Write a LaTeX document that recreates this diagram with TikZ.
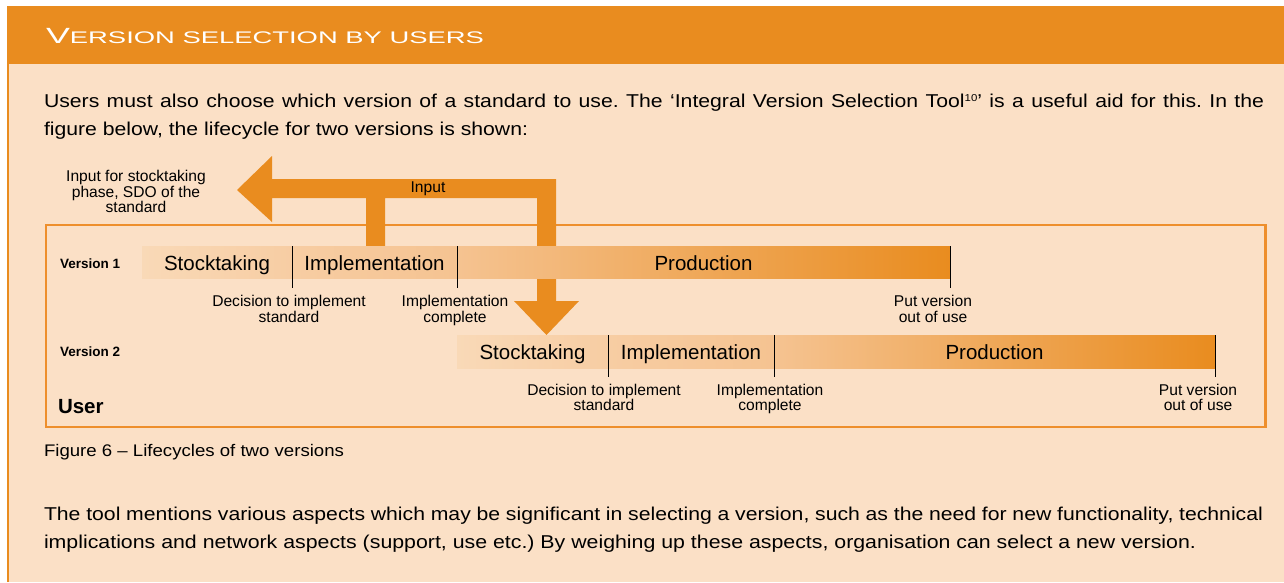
\documentclass[tikz,border=0pt]{standalone}
\usepackage{fontspec}
\usepackage{graphicx}
\setmainfont{Liberation Sans}
\newfontfamily\bodyfont{Liberation Sans}[FakeStretch=1.14]
\usetikzlibrary{positioning}

\definecolor{hdr}{HTML}{E98C1F}
\definecolor{panel}{HTML}{FBE0C6}
\definecolor{framec}{HTML}{EE8F2C}
\definecolor{paleA}{HTML}{F9D9B7}
\definecolor{paleB}{HTML}{F7CDA3}
\definecolor{paleC}{HTML}{F5C391}
\definecolor{midO}{HTML}{EEA55A}

\newcommand\footmark[1]{\raisebox{6.5pt}{\fontsize{10}{10}\selectfont #1}}

\begin{document}
\frenchspacing
\begin{tikzpicture}[x=1pt,y=-1pt,
  every node/.style={inner sep=0pt, outer sep=0pt},
  seg/.style={anchor=north west, text height=20pt, text depth=4pt,
    font=\fontsize{20.5}{24}\selectfont, text=black},
  tick/.style={draw=black, line width=0.9pt},
  sub/.style={font=\fontsize{15.6}{18}\selectfont, anchor=base},
  ver/.style={font=\bfseries\fontsize{13.5}{16}\selectfont, anchor=base west},
  body/.style={font=\bodyfont\fontsize{18.6}{22}\selectfont\frenchspacing, anchor=base west}]

\useasboundingbox (0,0) rectangle (1284,582);

% page, panel and heading bar
\fill[white] (0,0) rectangle (1284,582);
\fill[panel] (7,64) rectangle (1284,582);
\fill[hdr] (7,6) rectangle (1284,64);
\draw[hdr, line width=2.2pt] (8,64) -- (8,582);

\node[anchor=base west, text=white] (title) at (46,43)
  {\resizebox{438pt}{\height}{\fontsize{22}{22}\selectfont V\fontsize{16.8}{16}\selectfont ERSION SELECTION BY USERS}};

% opening paragraph
\node[body] (p1a) at (44,107.5) {\makebox[1220pt][s]{Users must also choose which version of a standard to use. The ‘Integral Version Selection Tool\footmark{10}’ is a useful aid for this. In the}};
\node[body] (p1b) at (44,135.5) {\resizebox{484pt}{\height}{figure below, the lifecycle for two versions is shown:}};

% user frame
\draw[framec, line width=2.5pt] (46,225) rectangle (1265.5,427);

% input arrows
\fill[hdr] (237,190) -- (272,156) -- (272,179) -- (556,179) -- (556,301)
  -- (579,301) -- (546.5,335) -- (514,301) -- (537,301) -- (537,198)
  -- (385,198) -- (385,246) -- (366,246) -- (366,198) -- (272,198)
  -- (272,222) -- cycle;

\node[font=\fontsize{15.6}{18}\selectfont, anchor=base] (inlab) at (428,192.7) {Input};
\node[sub] (sdo1) at (136,181.7) {Input for stocktaking};
\node[sub] (sdo2) at (136,197.2) {phase, SDO of the};
\node[sub] (sdo3) at (136,212.7) {standard};

% version 1
\node[ver] (ver1) at (60,268.3) {Version 1};
\node[seg, minimum height=32pt, minimum width=150pt, left color=paleA, right color=paleB] (v1s) at (142,246) {Stocktaking};
\node[seg, minimum height=32pt, minimum width=165pt, left color=paleB, right color=paleC] (v1i) at (v1s.north east) {Implementation};
\node[seg, minimum height=32pt, minimum width=493pt, left color=paleC, middle color=midO, right color=hdr] (v1p) at (v1i.north east) {Production};
\draw[tick] (v1s.north east) -- ++(0,42);
\draw[tick] (v1i.north east) -- ++(0,42);
\draw[tick] (v1p.north east) -- ++(0,42);

\node[sub] (d1a) at (289,306.5) {Decision to implement};
\node[sub] (d1b) at (289,322) {standard};
\node[sub] (c1a) at (455,306.5) {Implementation};
\node[sub] (c1b) at (455,322) {complete};
\node[sub] (o1a) at (933,306.5) {Put version};
\node[sub] (o1b) at (933,322) {out of use};

% version 2
\node[ver] (ver2) at (60,356) {Version 2};
\node[seg, minimum height=33pt, minimum width=151pt, left color=paleA, right color=paleB] (v2s) at (457,335) {Stocktaking};
\node[seg, minimum height=33pt, minimum width=166pt, left color=paleB, right color=paleC] (v2i) at (v2s.north east) {Implementation};
\node[seg, minimum height=33pt, minimum width=441pt, left color=paleC, middle color=midO, right color=hdr] (v2p) at (v2i.north east) {Production};
\draw[tick] (v2s.north east) -- ++(0,42);
\draw[tick] (v2i.north east) -- ++(0,42);
\draw[tick] (v2p.north east) -- ++(0,42);

\node[sub] (d2a) at (604,395) {Decision to implement};
\node[sub] (d2b) at (604,410.5) {standard};
\node[sub] (c2a) at (770,395) {Implementation};
\node[sub] (c2b) at (770,410.5) {complete};
\node[sub] (o2a) at (1198,395) {Put version};
\node[sub] (o2b) at (1198,410.5) {out of use};

\node[anchor=base west, font=\bfseries\fontsize{20.5}{24}\selectfont] (user) at (58,413) {User};

% caption and closing paragraph
\node[anchor=base west, font=\bodyfont\fontsize{16.8}{20}\selectfont] (cap) at (44,456.7) {\resizebox{300pt}{\height}{Figure 6 – Lifecycles of two versions}};
\node[body] (p2a) at (44,520.5) {\makebox[1219pt][s]{The tool mentions various aspects which may be significant in selecting a version, such as the need for new functionality, technical}};
\node[body] (p2b) at (44,548.5) {\resizebox{1152pt}{\height}{implications and network aspects (support, use etc.) By weighing up these aspects, organisation can select a new version.}};
\end{tikzpicture}
\end{document}
